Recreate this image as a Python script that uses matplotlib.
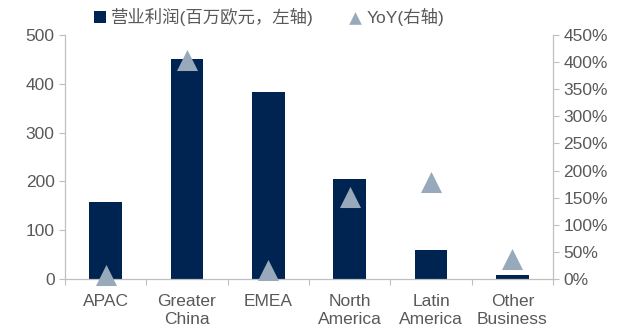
import matplotlib.pyplot as plt
from matplotlib.ticker import FuncFormatter, MultipleLocator

plt.rcParams['font.family'] = ['Liberation Sans', 'Noto Sans CJK SC', 'DejaVu Sans']

regions = ["APAC", "Greater\nChina", "EMEA", "North\nAmerica", "Latin\nAmerica", "Other\nBusiness"]
profit = [158, 451, 383, 205, 59, 8]          # 营业利润, 百万欧元
yoy = [7, 404, 17, 151, 179, 37]               # YoY, %

bar_color = "#002451"
tri_color = "#98A9BB"
grey = "#BFBFBF"
txt = "#595959"
fs = 12.5

fig = plt.figure(figsize=(6.33, 3.33), dpi=100)
ax = fig.add_axes([65 / 633, 1 - 279 / 333, (553 - 65) / 633, (279 - 35) / 333])
x = list(range(len(regions)))
bars = ax.bar(x, profit, width=0.4, color=bar_color, zorder=2)
ax.set_xlim(-0.5, len(regions) - 0.5)
ax.set_ylim(0, 500)
ax.yaxis.set_major_locator(MultipleLocator(100))

ax2 = ax.twinx()
ax2.set_position(ax.get_position())
pts = ax2.scatter(x, yoy, marker="^", s=230, color=tri_color, zorder=3, linewidths=0, clip_on=False)
ax2.set_ylim(0, 450)
ax2.yaxis.set_major_locator(MultipleLocator(50))
ax2.yaxis.set_major_formatter(FuncFormatter(lambda v, p: f"{v:.0f}%"))

for a in (ax, ax2):
    a.spines["top"].set_visible(False)
    for s in ("left", "right", "bottom"):
        a.spines[s].set_color(grey)
    a.tick_params(colors=grey, labelcolor=txt, labelsize=fs, length=4)

ax.set_xticks([i - 0.5 for i in range(len(regions) + 1)], minor=False)
ax.set_xticklabels([])
ax.set_xticks(x, minor=True)
ax.set_xticklabels(regions, minor=True, fontsize=fs, color=txt, linespacing=1.2)
ax.tick_params(axis="x", which="minor", length=0, pad=11)
ax.tick_params(axis="x", which="major", length=4)

fig.legend(handles=[bars, pts], labels=["营业利润(百万欧元，左轴)", "YoY(右轴)"],
           loc="center left", bbox_to_anchor=(94 / 633, 1 - 17 / 333), ncol=2, frameon=False,
           fontsize=fs, labelcolor=txt, handlelength=0.7, handletextpad=0.3,
           columnspacing=2.0, markerscale=0.6, borderpad=0, borderaxespad=0)

fig.savefig("out.png", dpi=100)
